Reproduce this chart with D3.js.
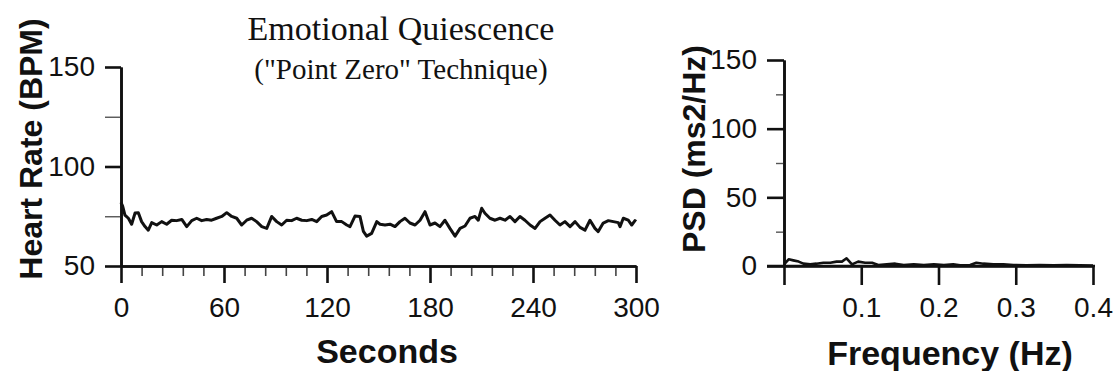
<!DOCTYPE html>
<html>
<head>
<meta charset="utf-8">
<script src="https://cdn.jsdelivr.net/npm/d3@7"></script>
<style>
  body { margin: 0; background: #fff; }
  svg { display: block; }
  .tick text { font-family: "Liberation Sans", Arial, sans-serif; font-size: 28px; fill: #111; }
  .axis-title { font-family: "Liberation Sans", Arial, sans-serif; font-weight: bold; fill: #111; }
  .serif { font-family: "Liberation Serif", "Times New Roman", serif; fill: #111; }
</style>
</head>
<body>
<svg id="chart" width="1113" height="371"></svg>
<script>
// heart rate trace: [seconds, BPM]
const heartRate = [
  [0, 82], [1, 80], [2.3, 75.6], [4.3, 74], [6.2, 71], [8.2, 76.6], [10.1, 76.8], [12, 72.3],
  [14, 69.8], [15.9, 68], [17.9, 71.8], [20.8, 70.6], [23.7, 72.3], [26.6, 71], [29.5, 73],
  [32.4, 72.8], [35.4, 73.4], [38.3, 69.8], [41.2, 72.8], [44.1, 74], [47, 72.8], [49.9, 73.4],
  [52.8, 73], [55.7, 74], [58.7, 74.9], [61.6, 76.8], [64.5, 74.9], [67.4, 74], [70.3, 70.6],
  [73.2, 73], [76.1, 74], [79, 72.3], [82, 69.8], [84.9, 68.9], [87.8, 74.9], [90.7, 72.3],
  [93.6, 70.6], [96.5, 73], [99.4, 72.8], [102.3, 74], [105.3, 73], [108.2, 72.8], [111.1, 73.4],
  [114, 72.3], [116.9, 74.9], [119.8, 75.6], [122.7, 77.3], [125.6, 72.3], [128.6, 72.3],
  [131.5, 70.6], [133.4, 69.8], [136.3, 75.1], [139.2, 74.9], [141.2, 67.4], [143.1, 65],
  [146, 66.4], [149, 72.3], [150.9, 71], [153.8, 70.6], [156.7, 71], [159.6, 69.8], [162.5, 72.3],
  [165.4, 74], [168.3, 71.6], [171.3, 70.6], [174.2, 73], [177.1, 77.3], [180, 70.6], [182.9, 71.6],
  [185.8, 69.8], [188.7, 73], [191.6, 68.9], [194.6, 65], [197.5, 68.9], [200.4, 70.1], [203.3, 74],
  [206.2, 74.9], [208.1, 73], [210.1, 79], [212, 76.5], [214.9, 74], [217.9, 73], [220.8, 74],
  [223.7, 73], [226.6, 74.9], [229.5, 72.3], [232.4, 74.9], [235.3, 73], [238.3, 70.6], [241.2, 68.9],
  [244.1, 72.3], [247, 74], [249.9, 75.6], [252.8, 73], [255.7, 70.6], [258.6, 72.3], [261.6, 69.8],
  [264.5, 72.3], [267.4, 69.4], [270.3, 68], [273.2, 73], [276.1, 68.9], [278, 67.3], [280.9, 71.6],
  [283.9, 72.8], [286.8, 72.3], [289.7, 71.8], [290.7, 69.8], [292.6, 74], [295.5, 73], [297.5, 70.6],
  [299.4, 72.8], [300, 72.3]
]

// power spectrum: [Hz, ms2/Hz]
const psd = [
  [0.001, 1.7], [0.006, 4.9], [0.012, 4.1], [0.019, 3.2], [0.025, 1.7], [0.034, 1.2], [0.042, 1.7],
  [0.051, 2.4], [0.06, 2.4], [0.068, 3.2], [0.075, 3.2], [0.081, 5.6], [0.088, 1.2], [0.096, 3.2],
  [0.105, 2.4], [0.114, 2.4], [0.122, 0.7], [0.133, 1.2], [0.144, 1.7], [0.155, 0.7], [0.168, 1.2],
  [0.181, 0.7], [0.194, 1.2], [0.207, 0.7], [0.219, 1.2], [0.228, 0.5], [0.241, 0.7], [0.249, 2.4],
  [0.258, 1.7], [0.271, 1.2], [0.284, 1.2], [0.297, 0.7], [0.314, 0.5], [0.331, 0.7], [0.349, 0.5],
  [0.366, 0.7], [0.383, 0.5], [0.4, 0.3]
]

const hrMajor = [0, 60, 120, 180, 240, 300]
const hrMinor = d3.range(12, 300, 12).filter(d => d % 60 !== 0)
const bpmMajor = [50, 100, 150]
const bpmMinor = [75, 125]
const freqTicks = [0, 0.1, 0.2, 0.3, 0.4]
const freqLabels = [0.1, 0.2, 0.3, 0.4]
const psdMajor = [0, 50, 100, 150]
const psdMinor = [25, 75, 125]

const svg = d3.select("#chart")
const ink = "#111"

function styleAxis (g, width) {
  g.select(".domain").attr("stroke", ink).attr("stroke-width", 2.6)
  g.selectAll(".tick line").attr("stroke", ink).attr("stroke-width", width)
}

// left panel
const x = d3.scaleLinear().domain([0, 300]).range([121, 636])
const y = d3.scaleLinear().domain([50, 150]).range([266, 67])

svg.append("g")
    .attr("transform", `translate(0,${y(50)})`)
    .call(d3.axisBottom(x).tickValues(hrMinor).tickSize(10).tickSizeOuter(0).tickFormat(""))
    .call(g => styleAxis(g, 1.6))
    .call(g => g.selectAll(".tick line").attr("stroke", "#444"))

svg.append("g")
    .attr("transform", `translate(0,${y(50)})`)
    .call(d3.axisBottom(x).tickValues(hrMajor).tickSize(17).tickPadding(14).tickSizeOuter(0))
    .call(g => styleAxis(g, 2.6))

svg.append("g")
    .attr("transform", `translate(${x(0)},0)`)
    .call(d3.axisLeft(y).tickValues(bpmMinor).tickSize(16).tickSizeOuter(0).tickFormat(""))
    .call(g => styleAxis(g, 1.4))
    .call(g => g.selectAll(".tick line").attr("stroke", "#555"))

svg.append("g")
    .attr("transform", `translate(${x(0)},0)`)
    .call(d3.axisLeft(y).tickValues(bpmMajor).tickSize(16).tickPadding(10).tickSizeOuter(0))
    .call(g => styleAxis(g, 2.6))

svg.append("path")
    .datum(heartRate)
    .attr("fill", "none")
    .attr("stroke", ink)
    .attr("stroke-width", 3)
    .attr("stroke-linejoin", "round")
    .attr("d", d3.line().x(d => x(d[0])).y(d => y(d[1])))

// right panel
const fx = d3.scaleLinear().domain([0, 0.4]).range([784, 1093])
const py = d3.scaleLinear().domain([0, 150]).range([266, 60])

svg.append("g")
    .attr("transform", `translate(0,${py(0)})`)
    .call(d3.axisBottom(fx).tickValues(freqTicks).tickSize(19).tickPadding(12).tickSizeOuter(0)
      .tickFormat(d => freqLabels.includes(d) ? d3.format(".1f")(d) : ""))
    .call(g => styleAxis(g, 2.6))

svg.append("g")
    .attr("transform", `translate(${fx(0)},0)`)
    .call(d3.axisLeft(py).tickValues(psdMinor).tickSize(8).tickSizeOuter(0).tickFormat(""))
    .call(g => styleAxis(g, 1.4))
    .call(g => g.selectAll(".tick line").attr("stroke", "#555"))

svg.append("g")
    .attr("transform", `translate(${fx(0)},0)`)
    .call(d3.axisLeft(py).tickValues(psdMajor).tickSize(17).tickPadding(10).tickSizeOuter(0))
    .call(g => styleAxis(g, 2.6))

// x axis line reaches left to the 0 tick
svg.append("line")
    .attr("x1", fx(0) - 17).attr("x2", fx(0.4) + 2)
    .attr("y1", py(0)).attr("y2", py(0))
    .attr("stroke", ink).attr("stroke-width", 2.6)

svg.append("path")
    .datum(psd)
    .attr("fill", "none")
    .attr("stroke", ink)
    .attr("stroke-width", 2.6)
    .attr("stroke-linejoin", "round")
    .attr("d", d3.line().x(d => fx(d[0])).y(d => py(d[1])))

// titles
svg.append("text").attr("class", "serif")
    .attr("x", 401).attr("y", 40)
    .attr("text-anchor", "middle").style("font-size", "34px")
    .text("Emotional Quiescence")

svg.append("text").attr("class", "serif")
    .attr("x", 401).attr("y", 79)
    .attr("text-anchor", "middle").style("font-size", "29px")
    .text("(\"Point Zero\" Technique)")

svg.append("text").attr("class", "axis-title")
    .attr("x", 387).attr("y", 363)
    .attr("text-anchor", "middle").style("font-size", "34px")
    .text("Seconds")

svg.append("text").attr("class", "axis-title")
    .attr("x", 950).attr("y", 365)
    .attr("text-anchor", "middle").style("font-size", "34px")
    .text("Frequency (Hz)")

svg.append("text").attr("class", "axis-title")
    .attr("transform", "translate(42,149) rotate(-90)")
    .attr("text-anchor", "middle").style("font-size", "32px")
    .text("Heart Rate (BPM)")

svg.append("text").attr("class", "axis-title")
    .attr("transform", "translate(705,149) rotate(-90)")
    .attr("text-anchor", "middle").style("font-size", "32px")
    .text("PSD (ms2/Hz)")
</script>
</body>
</html>
